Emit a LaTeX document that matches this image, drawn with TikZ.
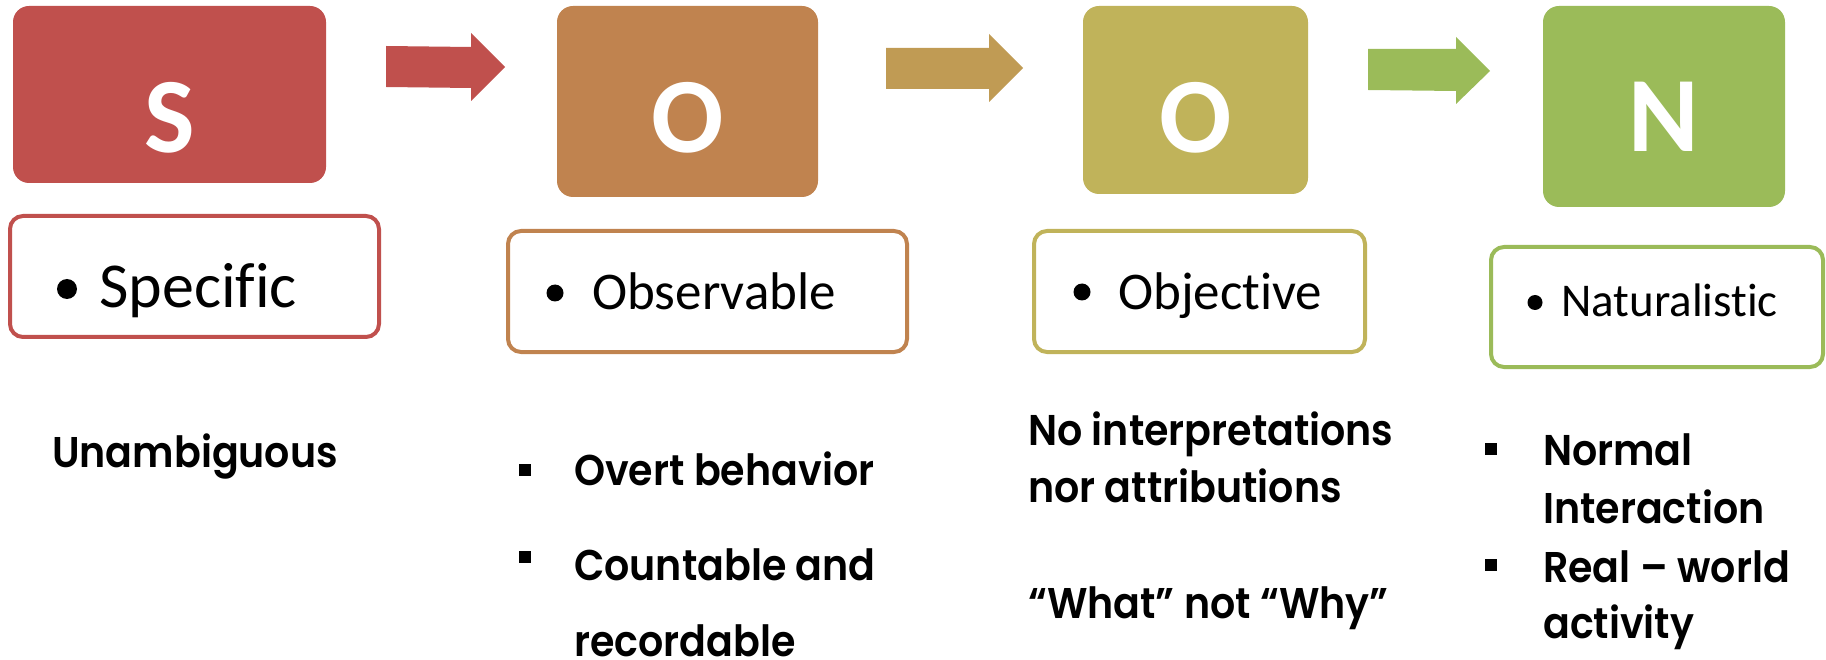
\documentclass[tikz,border=0pt]{standalone}
\usepackage{fontspec}
\setmainfont{Carlito}[Ligatures={NoCommon,NoRare}]
\newfontfamily\lowfont{Poppins SemiBold}[FakeStretch=0.92]
\definecolor{cS}{RGB}{192,80,77}
\definecolor{cOa}{RGB}{192,131,79}
\definecolor{cOb}{RGB}{192,179,90}
\definecolor{cN}{RGB}{155,187,89}
\definecolor{cAa}{RGB}{192,80,77}
\definecolor{cAb}{RGB}{192,155,84}
\definecolor{cAc}{RGB}{155,187,89}
\tikzset{
  bigbox/.style={rectangle, rounded corners=16pt, inner sep=0pt},
  letter/.style={inner sep=0pt, text=white, font=\fontsize{107}{107}\selectfont\bfseries},
  lbox/.style={rectangle, rounded corners=13pt, line width=4pt, fill=white, inner sep=0pt},
  dotb/.style={circle, fill=black, inner sep=0pt},
  sqb/.style={rectangle, fill=black, inner sep=0pt, minimum size=12pt},
  ltext/.style={inner sep=0pt, anchor=base west},
  lowtxt/.style={inner sep=0pt, anchor=base west, font=\lowfont\fontsize{43}{43}\selectfont},
}
\begin{document}
\begin{tikzpicture}[x=1pt,y=-1pt]
\useasboundingbox (0,0) rectangle (1826,660);
% top boxes
\node[bigbox, fill=cS,  minimum width=313pt, minimum height=177pt] (S)  at (169.5,94.5) {};
\node[bigbox, fill=cOa, minimum width=261pt, minimum height=191pt] (O1) at (687.5,101.5) {};
\node[bigbox, fill=cOb, minimum width=225pt, minimum height=188pt] (O2) at (1195.5,100) {};
\node[bigbox, fill=cN,  minimum width=242pt, minimum height=201pt] (N)  at (1664,106.5) {};
\node[letter, anchor=base] (Sl)  at (169.5,153) {S};
\node[letter, anchor=base] (O1l) at (687.5,153) {O};
\node[letter, anchor=base] (O2l) at (1195.5,153) {O};
\node[letter, anchor=base] (Nl)  at (1664,152) {N};
% block arrows
\fill[cAa] (386,46) -- (471,47) -- (471,33) -- (505,67) -- (471,101) -- (471,88) -- (386,87) -- cycle;
\fill[cAb] (886,48) -- (989,48) -- (989,34) -- (1023,68) -- (989,102) -- (989,89) -- (886,89) -- cycle;
\fill[cAc] (1368,49) -- (1456,49) -- (1456,37) -- (1490,71) -- (1456,104) -- (1456,91) -- (1368,90) -- cycle;
% lower boxes
\node[lbox, draw=cS,  minimum width=369pt, minimum height=121pt] (Sb)  at (194.5,276.5) {};
\node[lbox, draw=cOa, minimum width=399pt, minimum height=121pt] (O1b) at (707.5,291.5) {};
\node[lbox, draw=cOb, minimum width=331pt, minimum height=121pt] (O2b) at (1199.5,291.5) {};
\node[lbox, draw=cN,  minimum width=332pt, minimum height=120pt] (Nb)  at (1657,307) {};
\node[dotb, minimum size=20pt] (d1) at (67,289) {};
\node[dotb, minimum size=17pt] (d2) at (555,293) {};
\node[dotb, minimum size=17pt] (d3) at (1082,292) {};
\node[dotb, minimum size=15pt] (d4) at (1535,302.5) {};
\node[ltext, font=\fontsize{64}{64}\selectfont] (t1) at (99,308) {Specific};
\node[ltext, font=\fontsize{53}{53}\selectfont] (t2) at (592,309) {Observable};
\node[ltext, font=\fontsize{53}{53}\selectfont] (t3) at (1118,309) {Objective};
\node[ltext, font=\fontsize{47}{47}\selectfont] (t4) at (1561,317) {Naturalistic};
% lower texts
\node[lowtxt] (un) at (52,467) {Unambiguous};
\node[sqb] (q1) at (525,470) {};
\node[sqb] (q2) at (525,557) {};
\node[lowtxt] (ov) at (574,485) {Overt behavior};
\node[lowtxt] (co) at (574,580) {Countable and};
\node[lowtxt] (rc) at (574,656) {recordable};
\node[lowtxt] (ni) at (1028,445) {No interpretations};
\node[lowtxt] (na) at (1028,502) {nor attributions};
\node[lowtxt] (wh) at (1028,618) {“What” not “Why”};
\node[sqb] (q3) at (1491,449) {};
\node[sqb] (q4) at (1491,565) {};
\node[lowtxt] (nm) at (1543,465) {Normal};
\node[lowtxt] (in) at (1543,523) {Interaction};
\node[lowtxt] (rw) at (1543,582) {Real – world};
\node[lowtxt] (ac) at (1543,638) {activity};
\end{tikzpicture}
\end{document}
